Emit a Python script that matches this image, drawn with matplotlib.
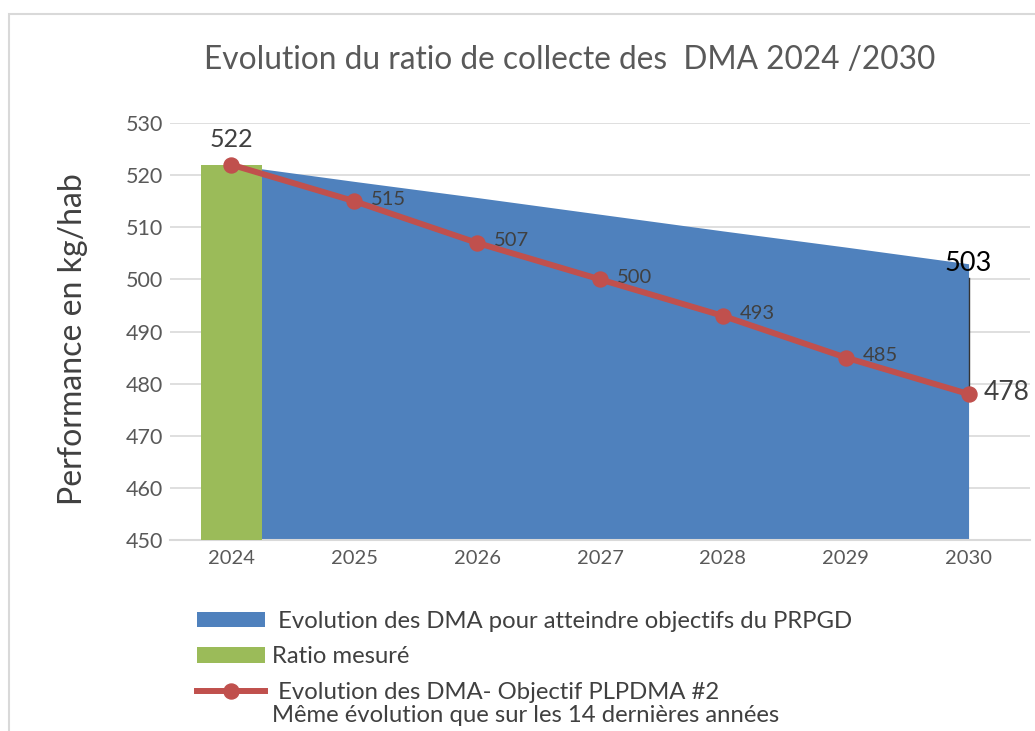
import matplotlib
matplotlib.use("Agg")
import matplotlib.pyplot as plt
from matplotlib.patches import Patch, Rectangle
from matplotlib.lines import Line2D
import numpy as np

years = ["2024", "2025", "2026", "2027", "2028", "2029", "2030"]
prpgd_area = [522, 518.8, 515.7, 512.5, 509.3, 506.2, 503]
ratio_mesure = [522]
plpdma_line = [522, 515, 507, 500, 493, 485, 478]
line_labels = ["522", "515", "507", "500", "493", "485", "478"]
area_end_label = "503"

title = "Evolution du ratio de collecte des  DMA 2024 /2030"
ylabel = "Performance en kg/hab"
leg_area = " Evolution des DMA pour atteindre objectifs du PRPGD"
leg_bar = "Ratio mesuré"
leg_line_1 = " Evolution des DMA- Objectif PLPDMA #2"
leg_line_2 = "Même évolution que sur les 14 dernières années"

BLUE = "#4F81BD"
GREEN = "#9BBB59"
RED = "#C0504D"
GREY = "#595959"
DARK = "#404040"

plt.rcParams['font.family'] = ['Lato', 'DejaVu Sans']

W, H = 1035, 731
fig = plt.figure(figsize=(W / 100, H / 100), dpi=100)
fig.patches.append(Rectangle((9 / W, -0.1), 1.2, 1 - 14 / H + 0.1, transform=fig.transFigure,
                             fill=False, edgecolor="#d9d9d9", linewidth=1.5))

ax = fig.add_axes([170 / W, 1 - 540 / H, 860 / W, (540 - 123) / H])
x = np.arange(len(years))

ax.fill_between(x, 450, prpgd_area, color=BLUE, linewidth=0, zorder=2)
ax.bar(x[:len(ratio_mesure)], np.array(ratio_mesure) - 450, bottom=450, width=0.49,
       color=GREEN, zorder=3)
ax.plot(x, plpdma_line, color=RED, linewidth=4.3, marker="o", markersize=10.8, zorder=5,
        solid_capstyle="round")
# connector at 2030
ax.plot([x[-1], x[-1]], [prpgd_area[-1] - 2.8, plpdma_line[-1]], color="#333333",
        linewidth=1.0, zorder=4)

ax.set_ylim(450, 530)
ax.set_xlim(-0.5, len(years) - 0.5)
ax.set_yticks(np.arange(450, 531, 10))
ax.set_xticks(x)
ax.set_xticklabels(years)
ax.grid(axis="y", color="#d9d9d9", linewidth=1.2, zorder=0)
ax.set_axisbelow(True)
for s in ["top", "right", "left"]:
    ax.spines[s].set_visible(False)
ax.spines["bottom"].set_color("#d9d9d9")
ax.spines["bottom"].set_linewidth(1.5)
ax.tick_params(axis="both", length=0, colors=GREY)
ax.tick_params(axis="y", pad=5, labelsize=15.5)
ax.tick_params(axis="x", pad=7, labelsize=14.5)

ax.set_ylabel(ylabel, fontsize=23, color=DARK)
ax.yaxis.set_label_coords(-0.095, 0.482)

# data labels
ax.annotate(line_labels[0], (x[0], plpdma_line[0]), xytext=(0, 10), textcoords="offset points",
            ha="center", va="bottom", fontsize=18, color=DARK)
for i in range(1, len(years) - 1):
    ax.annotate(line_labels[i], (x[i], plpdma_line[i]), xytext=(12, 1.5), textcoords="offset points",
                ha="left", va="center", fontsize=14.5, color=DARK)
ax.annotate(line_labels[-1], (x[-1], plpdma_line[-1]), xytext=(11, 1), textcoords="offset points",
            ha="left", va="center", fontsize=19, color=DARK)
ax.annotate(area_end_label, (x[-1], prpgd_area[-1]), xytext=(0, 0), textcoords="offset points",
            ha="center", va="center", fontsize=19.5, color="black", zorder=6)

fig.text(570 / W, 1 - 60 / H, title, ha="center", va="center", fontsize=22.8, color=GREY)

handles = [Patch(facecolor=BLUE, edgecolor="none"),
           Patch(facecolor=GREEN, edgecolor="none"),
           Line2D([0], [0], color=RED, linewidth=4.3, marker="o", markersize=10.8)]
leg = fig.legend(handles, [leg_area, leg_bar, leg_line_1], loc="upper left",
                 bbox_to_anchor=(197 / W, 1 - 611 / H), frameon=False, fontsize=17.2,
                 handlelength=2.85, handleheight=0.63, handletextpad=0.3, labelspacing=0.6,
                 borderaxespad=0, borderpad=0)
for t in leg.get_texts():
    t.set_color(DARK)

fig.canvas.draw()
bb = leg.get_texts()[1].get_window_extent()
bb3 = leg.get_texts()[2].get_window_extent()
fig.text(bb.x0 / W, (bb3.y0 - 23) / H, leg_line_2, ha="left", va="bottom",
         fontsize=17.2, color=DARK)

fig.savefig("out.png", dpi=100)
